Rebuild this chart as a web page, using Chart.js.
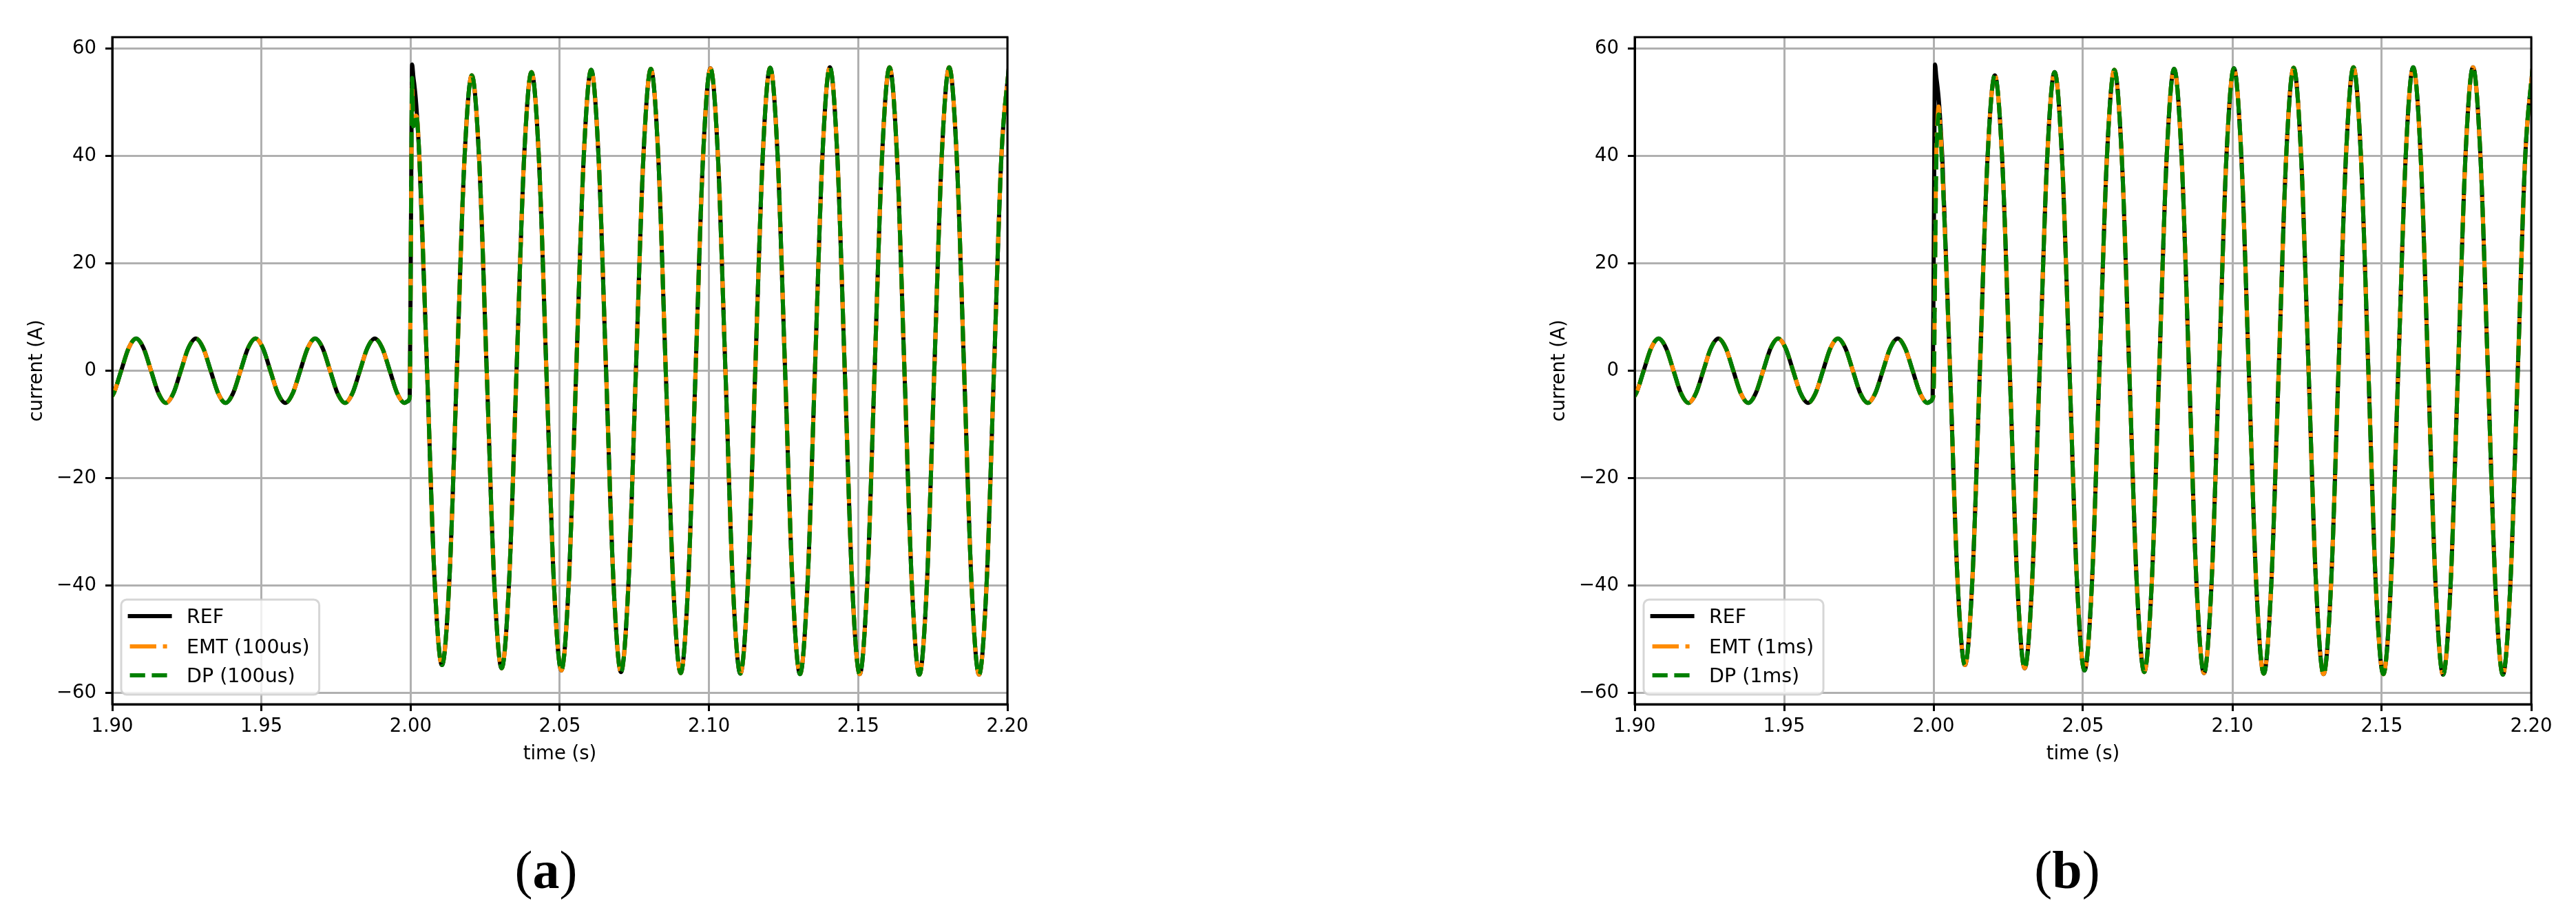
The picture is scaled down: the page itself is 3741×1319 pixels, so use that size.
<!DOCTYPE html>
<html><head><meta charset="utf-8">
<script src="https://cdn.jsdelivr.net/npm/chart.js@4.4.0/dist/chart.umd.min.js"></script>
<style>
html,body{margin:0;padding:0;background:#fff;}
body{width:3741px;height:1319px;position:relative;overflow:hidden;}
canvas{position:absolute;top:0;}
#ca{left:0;width:1870px;height:1319px;}
#cb{left:2211px;width:1530px;height:1319px;}
.sub{position:absolute;font-family:'Liberation Serif','Times New Roman',serif;font-size:78px;line-height:1;transform:translate(-50%,-50%);white-space:nowrap;color:#000;}
.sub b{font-weight:bold;}
</style></head><body>
<canvas id="ca" width="1870" height="1319"></canvas>
<canvas id="cb" width="1530" height="1319"></canvas>
<div class="sub" style="left:793px;top:1264px">(<b>a</b>)</div>
<div class="sub" style="left:3002px;top:1264px">(<b>b</b>)</div>
<script>
// ---- data ----
const xTicks = [1.90, 1.95, 2.00, 2.05, 2.10, 2.15, 2.20];
const xTickLabels = ['1.90', '1.95', '2.00', '2.05', '2.10', '2.15', '2.20'];
const yTicks = [-60, -40, -20, 0, 20, 40, 60];
const yTickLabels = ['\u221260', '\u221240', '\u221220', '0', '20', '40', '60'];

const preTime = [1.8980, 1.9005, 1.9030, 1.9055, 1.9080, 1.9105, 1.9130, 1.9155, 1.9180,
  1.9205, 1.9230, 1.9255, 1.9280, 1.9305, 1.9330, 1.9355, 1.9380,
  1.9405, 1.9430, 1.9455, 1.9480, 1.9505, 1.9530, 1.9555, 1.9580,
  1.9605, 1.9630, 1.9655, 1.9680, 1.9705, 1.9730, 1.9755, 1.9780,
  1.9805, 1.9830, 1.9855, 1.9880, 1.9905, 1.9930, 1.9955, 1.9980];
const preCurrent = [-6.0, -4.2, 0.0, 4.2, 6.0, 4.2, 0.0, -4.2, -6.0,
  -4.2, 0.0, 4.2, 6.0, 4.2, 0.0, -4.2, -6.0,
  -4.2, 0.0, 4.2, 6.0, 4.2, 0.0, -4.2, -6.0,
  -4.2, 0.0, 4.2, 6.0, 4.2, 0.0, -4.2, -6.0,
  -4.2, 0.0, 4.2, 6.0, 4.2, 0.0, -4.2, -6.0];

const transientTime = [1.9990, 1.9997, 2.0001, 2.0005, 2.0009, 2.0013, 2.0017, 2.0021, 2.0030];
const refTransient  = [-5.7, -5.0, 26.0, 57.0, 54.8, 53.0, 50.8, 47.8, 38.8];
const emtTransientA = [-5.7, -5.0, 24.0, 53.5, 46.0, 46.0, 47.5, 47.2, 38.8];
const dpTransientA  = [-5.7, -5.0, 25.0, 54.5, 45.5, 46.5, 47.5, 47.0, 38.8];
const emtTransientB = [-5.7, -5.2, -2.0, 20.0, 40.0, 46.5, 49.2, 47.0, 37.0];
const dpTransientB  = [-5.7, -5.2, -2.5, 18.0, 38.0, 45.0, 47.7, 46.0, 36.5];

const postTime = [2.0055, 2.0080, 2.0105, 2.0130, 2.0155, 2.0180, 2.0205,
  2.0230, 2.0255, 2.0280, 2.0305, 2.0330, 2.0355, 2.0380, 2.0405,
  2.0430, 2.0455, 2.0480, 2.0505, 2.0530, 2.0555, 2.0580, 2.0605,
  2.0630, 2.0655, 2.0680, 2.0705, 2.0730, 2.0755, 2.0780, 2.0805,
  2.0830, 2.0855, 2.0880, 2.0905, 2.0930, 2.0955, 2.0980, 2.1005,
  2.1030, 2.1055, 2.1080, 2.1105, 2.1130, 2.1155, 2.1180, 2.1205,
  2.1230, 2.1255, 2.1280, 2.1305, 2.1330, 2.1355, 2.1380, 2.1405,
  2.1430, 2.1455, 2.1480, 2.1505, 2.1530, 2.1555, 2.1580, 2.1605,
  2.1630, 2.1655, 2.1680, 2.1705, 2.1730, 2.1755, 2.1780, 2.1805,
  2.1830, 2.1855, 2.1880, 2.1905, 2.1930, 2.1955, 2.1980, 2.2005];
const postCurrent = [0.3, -38.7, -54.8, -38.8, 0.1, 38.9, 55.0,
  39.0, 0.0, -39.1, -55.4, -39.2, 0.0, 39.3, 55.6,
  39.4, 0.0, -39.4, -55.8, -39.5, 0.0, 39.6, 56.0,
  39.6, 0.0, -39.6, -56.1, -39.7, 0.0, 39.7, 56.2,
  39.8, 0.0, -39.8, -56.3, -39.8, 0.0, 39.8, 56.3,
  39.8, 0.0, -39.9, -56.4, -39.9, 0.0, 39.9, 56.4,
  39.9, 0.0, -39.9, -56.5, -39.9, 0.0, 39.9, 56.5,
  40.0, 0.0, -40.0, -56.5, -40.0, 0.0, 40.0, 56.5,
  40.0, 0.0, -40.0, -56.6, -40.0, 0.0, 40.0, 56.5,
  40.0, 0.0, -40.0, -56.6, -40.0, 0.0, 40.0, 56.6];

// ---- build ----
const time = [...preTime, ...transientTime, ...postTime];
function series(transient) { return [...preCurrent, ...transient, ...postCurrent]; }

Chart.defaults.font.family = "'DejaVu Sans'";
Chart.defaults.color = '#000';

const LW = 6;
const STYLES = {
  REF: {color: '#000000', dash: [], order: 3},
  EMT: {color: '#ff8c00', dash: [38.4, 9.6, 6, 9.6], order: 2},
  DP:  {color: '#008000', dash: [22.2, 9.6], order: 1}
};

const mplDecor = {
  id: 'mplDecor',
  afterDraw(chart) {
    const {ctx, chartArea: a} = chart;
    ctx.save();
    // spines
    ctx.strokeStyle = '#000'; ctx.lineWidth = 3; ctx.setLineDash([]);
    ctx.strokeRect(a.left, a.top, a.right - a.left, a.bottom - a.top);
    // legend
    const sets = chart.data.datasets;
    ctx.font = "28.5px 'DejaVu Sans'";
    const tw = Math.max(...sets.map(d => ctx.measureText(d.label).width));
    const x0 = a.left + 13, h = 138, y0 = a.bottom - 14 - h, w = 95 + tw + 14;
    ctx.beginPath();
    ctx.roundRect(x0, y0, w, h, 8);
    ctx.fillStyle = 'rgba(255,255,255,0.8)'; ctx.fill();
    ctx.strokeStyle = 'rgba(204,204,204,0.8)'; ctx.lineWidth = 3; ctx.stroke();
    const rows = [24, 68, 110];
    sets.forEach((d, i) => {
      const yc = y0 + rows[i];
      ctx.beginPath();
      ctx.strokeStyle = d.borderColor; ctx.lineWidth = LW;
      ctx.setLineDash(d.borderDash); ctx.lineDashOffset = 0;
      ctx.lineCap = d.borderDash.length ? 'butt' : 'square';
      ctx.moveTo(x0 + 12.6, yc); ctx.lineTo(x0 + 70.6, yc); ctx.stroke();
      ctx.setLineDash([]);
      ctx.fillStyle = '#000'; ctx.textBaseline = 'alphabetic'; ctx.textAlign = 'left';
      ctx.fillText(d.label, x0 + 95, yc + 10.4);
    });
    ctx.restore();
  }
};

function makeChart(id, defs, padRight) {
  return new Chart(document.getElementById(id), {
    type: 'line',
    data: {
      datasets: defs.map(d => ({
        label: d.label,
        data: time.map((t, i) => ({x: t, y: d.values[i]})),
        borderColor: STYLES[d.kind].color,
        borderDash: STYLES[d.kind].dash,
        order: STYLES[d.kind].order,
        borderWidth: LW,
        borderCapStyle: 'butt',
        borderJoinStyle: 'round',
        pointRadius: 0,
        cubicInterpolationMode: 'monotone',
        fill: false,
        clip: 0
      }))
    },
    options: {
      responsive: false, animation: false, devicePixelRatio: 1,
      layout: {padding: {left: 0, top: 54, right: padRight, bottom: 196}},
      plugins: {legend: {display: false}, tooltip: {enabled: false}},
      scales: {
        x: {
          type: 'linear', min: 1.9, max: 2.2,
          afterBuildTicks: s => { s.ticks = xTicks.map(v => ({value: v})); },
          afterFit: s => { s.height = 100; },
          ticks: {font: {size: 27.5}, color: '#000', padding: 6, maxRotation: 0, autoSkip: false,
                  callback: (v, i) => xTickLabels[i]},
          grid: {color: '#b0b0b0', lineWidth: 3, tickLength: 10, tickColor: '#000', tickWidth: 3},
          border: {color: '#000', width: 3},
          title: {display: true, text: 'time (s)', font: {size: 27.5}, color: '#000', padding: {top: 0, bottom: 10.5}}
        },
        y: {
          type: 'linear', min: -62.1, max: 62.1,
          afterBuildTicks: s => { s.ticks = yTicks.map(v => ({value: v})); },
          afterFit: s => { s.width = 163; },
          ticks: {font: {size: 27.5}, color: '#000', padding: 13, autoSkip: false,
                  callback: (v, i) => yTickLabels[i]},
          grid: {color: '#b0b0b0', lineWidth: 3, tickLength: 10, tickColor: '#000', tickWidth: 3},
          border: {color: '#000', width: 3},
          title: {display: true, text: 'current (A)', font: {size: 27.5}, color: '#000', padding: {top: 37.8, bottom: 0}}
        }
      }
    },
    plugins: [mplDecor]
  });
}

makeChart('ca', [
  {label: 'REF', kind: 'REF', values: series(refTransient)},
  {label: 'EMT (100us)', kind: 'EMT', values: series(emtTransientA)},
  {label: 'DP (100us)', kind: 'DP', values: series(dpTransientA)}
], 407);

makeChart('cb', [
  {label: 'REF', kind: 'REF', values: series(refTransient)},
  {label: 'EMT (1ms)', kind: 'EMT', values: series(emtTransientB)},
  {label: 'DP (1ms)', kind: 'DP', values: series(dpTransientB)}
], 65);
</script>
</body></html>
